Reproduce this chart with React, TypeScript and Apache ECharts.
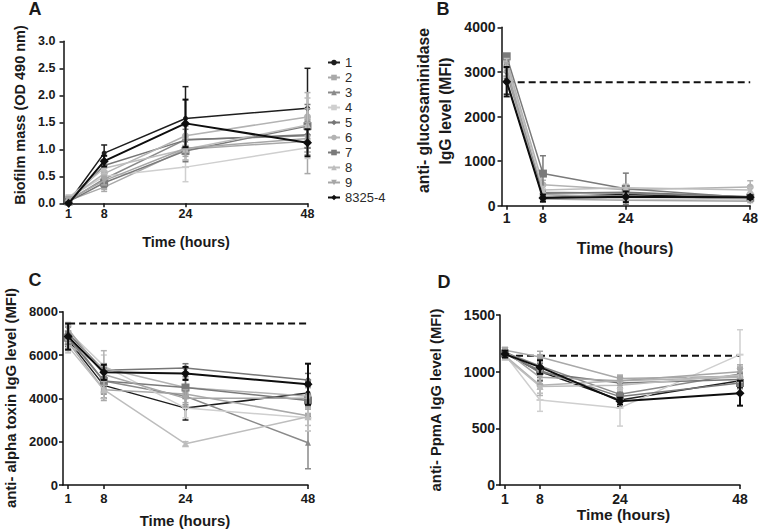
import React, { useEffect, useRef } from "react";
import * as echarts from "echarts";

// ---------- DATA ----------
const times = [1, 8, 24, 48];
const xTicks = [1, 8, 24, 48];
const seriesNames = ["1", "2", "3", "4", "5", "6", "7", "8", "9", "8325-4"];

// Panel A: biofilm mass (OD 490 nm)
const biofilmMean = [
  [0.02, 0.93, 1.57, 1.76],
  [0.05, 0.3, 1.0, 1.15],
  [0.05, 0.45, 1.18, 1.25],
  [0.1, 0.5, 0.67, 1.03],
  [0.03, 0.7, 1.17, 1.27],
  [0.08, 0.55, 1.25, 1.6],
  [0.03, 0.38, 0.97, 1.43],
  [0.1, 0.65, 1.0, 1.45],
  [0.07, 0.42, 1.02, 1.2],
  [0.0, 0.78, 1.48, 1.12],
];
const biofilmSD = [
  [0.02, 0.15, 0.59, 0.74],
  [0.05, 0.08, 0.2, 0.6],
  [0.03, 0.1, 0.25, 0.3],
  [0.05, 0.1, 0.27, 0.2],
  [0.03, 0.1, 0.2, 0.25],
  [0.05, 0.1, 0.2, 0.45],
  [0.03, 0.08, 0.2, 0.4],
  [0.05, 0.1, 0.2, 0.5],
  [0.05, 0.08, 0.15, 0.3],
  [0.02, 0.1, 0.44, 0.25],
];

// Panel B: anti-glucosaminidase IgG (MFI)
const glucMean = [
  [2800, 200, 250, 180],
  [3200, 250, 200, 150],
  [3100, 300, 280, 200],
  [2900, 200, 150, 120],
  [3000, 280, 300, 200],
  [3250, 470, 360, 420],
  [3350, 720, 380, 180],
  [3150, 350, 400, 350],
  [3050, 150, 120, 100],
  [2780, 170, 200, 190],
];
const glucSD = [
  [300, 50, 80, 50],
  [150, 60, 60, 40],
  [200, 60, 60, 40],
  [150, 50, 40, 30],
  [150, 60, 60, 40],
  [120, 100, 100, 140],
  [50, 400, 350, 60],
  [150, 80, 80, 60],
  [150, 40, 30, 30],
  [330, 80, 120, 40],
];
const glucBaseline = 2770;

// Panel C: anti-alpha toxin IgG (MFI)
const alphaMean = [
  [6700, 4600, 3550, 4250],
  [6600, 4400, 4200, 3200],
  [6900, 4800, 4100, 1950],
  [7100, 5500, 3550, 3100],
  [7000, 5300, 5400, 4850],
  [6500, 5400, 4500, 4100],
  [6800, 4800, 4500, 3900],
  [6400, 4400, 1900, 3150],
  [7200, 5100, 4000, 4000],
  [6850, 5200, 5150, 4650],
];
const alphaSD = [
  [300, 600, 550, 500],
  [300, 500, 400, 700],
  [400, 500, 400, 1200],
  [300, 500, 450, 600],
  [300, 300, 200, 300],
  [300, 800, 400, 400],
  [300, 600, 500, 300],
  [300, 400, 100, 400],
  [300, 500, 400, 500],
  [600, 350, 300, 950],
];
const alphaBaseline = 7450;

// Panel D: anti-PpmA IgG (MFI)
const ppmaMean = [
  [1160, 1000, 750, 920],
  [1190, 1130, 940, 960],
  [1170, 1050, 800, 980],
  [1150, 750, 680, 1150],
  [1180, 990, 900, 930],
  [1140, 880, 920, 950],
  [1160, 1010, 780, 900],
  [1130, 870, 880, 970],
  [1185, 950, 920, 1000],
  [1155, 1040, 740, 810],
];
const ppmaSD = [
  [30, 80, 60, 60],
  [25, 50, 30, 60],
  [25, 60, 40, 60],
  [30, 100, 160, 220],
  [25, 60, 40, 60],
  [25, 90, 40, 50],
  [25, 60, 40, 50],
  [25, 60, 40, 60],
  [25, 60, 40, 60],
  [30, 60, 30, 110],
];
const ppmaBaseline = 1140;

// ---------- STYLES ----------
const FONT = "'Liberation Sans', Arial, sans-serif";
const colors = ["#1e1e1e", "#a9a9a9", "#8a8a8a", "#cfcfcf", "#767676", "#b3b3b3", "#7a7a7a", "#bdbdbd", "#a6a6a6", "#0e0e0e"];
const symbols = ["circle", "rect", "triangle", "rect", "diamond", "circle", "rect", "triangle", "triangle", "diamond"];
const symbolSizes: any[] = [5, 6, 6, [7, 2], 7, 7, 8, 7, 7, 9];
const symbolRotates = [0, 0, 0, 0, 0, 0, 0, 0, 180, 0];
const lineWidths = [1.5, 1.5, 1.5, 1.5, 1.5, 1.5, 1.5, 1.5, 1.5, 2];

type Panel = {
  mean: number[][];
  sd: number[][];
  baseline: number | null;
  grid: any;
  yMax: number;
  yInterval: number;
  decimals: number;
  tickFont: number;
  xLabelMargin: number;
  yLabelMargin: number;
};

const panels: Panel[] = [
  { mean: biofilmMean, sd: biofilmSD, baseline: null, grid: { left: 63.5, top: 41.3, width: 244, height: 162 }, yMax: 3, yInterval: 0.5, decimals: 1, tickFont: 12.5, xLabelMargin: 4, yLabelMargin: 8 },
  { mean: glucMean, sd: glucSD, baseline: glucBaseline, grid: { left: 501.5, top: 27.3, width: 251.5, height: 178.4 }, yMax: 4000, yInterval: 1000, decimals: 0, tickFont: 14, xLabelMargin: 5, yLabelMargin: 6 },
  { mean: alphaMean, sd: alphaSD, baseline: alphaBaseline, grid: { left: 63, top: 311.7, width: 245, height: 173.3 }, yMax: 8000, yInterval: 2000, decimals: 0, tickFont: 13, xLabelMargin: 7, yLabelMargin: 5 },
  { mean: ppmaMean, sd: ppmaSD, baseline: ppmaBaseline, grid: { left: 500, top: 315, width: 240, height: 170 }, yMax: 1500, yInterval: 500, decimals: 0, tickFont: 14, xLabelMargin: 7, yLabelMargin: 5 },
];

function buildOption() {
  const grids: any[] = [];
  const xAxes: any[] = [];
  const yAxes: any[] = [];
  const series: any[] = [];

  panels.forEach((p, pi) => {
    grids.push({ ...p.grid, containLabel: false });
    xAxes.push({
      type: "value",
      gridIndex: pi,
      min: 0,
      max: 48,
      axisLine: { show: true, lineStyle: { color: "#111", width: 1.5 } },
      axisTick: { show: true, length: 4, customValues: xTicks, lineStyle: { color: "#111", width: 1.5 } },
      axisLabel: {
        customValues: xTicks,
        margin: p.xLabelMargin,
        color: "#1a1a1a",
        fontWeight: "bold",
        fontSize: p.tickFont,
        fontFamily: FONT,
      },
      splitLine: { show: false },
    });
    yAxes.push({
      type: "value",
      gridIndex: pi,
      min: 0,
      max: p.yMax,
      interval: p.yInterval,
      axisLine: { show: true, lineStyle: { color: "#111", width: 1.5 } },
      axisTick: { show: true, length: 4, lineStyle: { color: "#111", width: 1.5 } },
      axisLabel: {
        margin: p.yLabelMargin,
        color: "#1a1a1a",
        fontWeight: "bold",
        fontSize: p.tickFont,
        fontFamily: FONT,
        formatter: (v: number) => v.toFixed(p.decimals),
      },
      splitLine: { show: false },
    });

    if (p.baseline !== null) {
      series.push({
        type: "line",
        name: "baseline-" + pi,
        xAxisIndex: pi,
        yAxisIndex: pi,
        data: [
          [times[0], p.baseline],
          [times[times.length - 1], p.baseline],
        ],
        symbol: "none",
        silent: true,
        lineStyle: { color: "#111", width: 2, type: [7, 4] },
        z: 1,
      });
    }

    seriesNames.forEach((name, si) => {
      const errData = times.map((t, ti) => [t, p.mean[si][ti] - p.sd[si][ti], p.mean[si][ti] + p.sd[si][ti]]);
      const col = colors[si];
      const lw = lineWidths[si];
      series.push({
        type: "custom",
        name: "err-" + pi + "-" + si,
        xAxisIndex: pi,
        yAxisIndex: pi,
        data: errData,
        encode: { x: 0, y: [1, 2] },
        silent: true,
        z: 2 + si,
        renderItem: (params: any, api: any) => {
          const x = api.value(0);
          const lo = api.coord([x, Math.max(0, api.value(1))]);
          const hi = api.coord([x, api.value(2)]);
          const cw = 3;
          const style = { stroke: col, lineWidth: lw };
          return {
            type: "group",
            children: [
              { type: "line", shape: { x1: lo[0], y1: lo[1], x2: hi[0], y2: hi[1] }, style },
              { type: "line", shape: { x1: hi[0] - cw, y1: hi[1], x2: hi[0] + cw, y2: hi[1] }, style },
              { type: "line", shape: { x1: lo[0] - cw, y1: lo[1], x2: lo[0] + cw, y2: lo[1] }, style },
            ],
          };
        },
      });
      series.push({
        type: "line",
        name,
        xAxisIndex: pi,
        yAxisIndex: pi,
        data: times.map((t, ti) => [t, p.mean[si][ti]]),
        symbol: symbols[si],
        symbolSize: symbolSizes[si],
        symbolRotate: symbolRotates[si],
        showAllSymbol: true,
        itemStyle: { color: col },
        lineStyle: { color: col, width: lw },
        z: 2 + si,
      });
    });
  });

  const txt = (text: string, x: number, y: number, size: number, rot = 0, extra: any = {}) => ({
    type: "text",
    x,
    y,
    rotation: rot,
    silent: true,
    style: {
      text,
      fill: "#1a1a1a",
      font: `bold ${size}px ${FONT}`,
      textAlign: "center",
      textVerticalAlign: "middle",
      ...extra,
    },
  });

  const R = Math.PI / 2;
  const graphic = [
    txt("A", 35, 9, 18),
    txt("B", 443, 9, 18),
    txt("C", 35, 280, 18),
    txt("D", 444, 282, 18),
    txt("Time (hours)", 186, 241.5, 14.5),
    txt("Time (hours)", 625, 248, 16),
    txt("Time (hours)", 185, 520, 15),
    txt("Time (hours)", 623.5, 514.5, 15.5),
    txt("Biofilm mass (OD 490 nm)", 20, 115, 14.5, R),
    txt("anti- glucosaminidase", 423.5, 110.5, 15.7, R),
    txt("IgG level (MFI)", 445, 111, 15.7, R),
    txt("anti- alpha toxin IgG level (MFI)", 11, 398, 14.9, R),
    txt("anti- PpmA IgG level (MFI)", 436, 400, 14.8, R),
  ];

  const legendText = { fontSize: 13, color: "#2a2a2a", fontFamily: FONT };

  return {
    animation: false,
    backgroundColor: "#ffffff",
    textStyle: { fontFamily: FONT },
    grid: grids,
    xAxis: xAxes,
    yAxis: yAxes,
    series,
    graphic,
    legend: {
      data: seriesNames.map((n) => ({ name: n, textStyle: legendText })),
      orient: "vertical",
      left: 327,
      top: 56,
      padding: 0,
      itemWidth: 12,
      itemHeight: 7,
      itemGap: 2,
      selectedMode: false,
      textStyle: legendText,
    },
  };
}

export default function App() {
  const ref = useRef<HTMLDivElement>(null);
  useEffect(() => {
    if (!ref.current) return;
    const chart = echarts.init(ref.current, undefined, { renderer: "svg" });
    chart.setOption(buildOption() as any);
    return () => chart.dispose();
  }, []);
  return (
    <div
      ref={ref}
      style={{ position: "absolute", left: 0, top: 0, width: 761, height: 530, background: "#fff" }}
    />
  );
}
